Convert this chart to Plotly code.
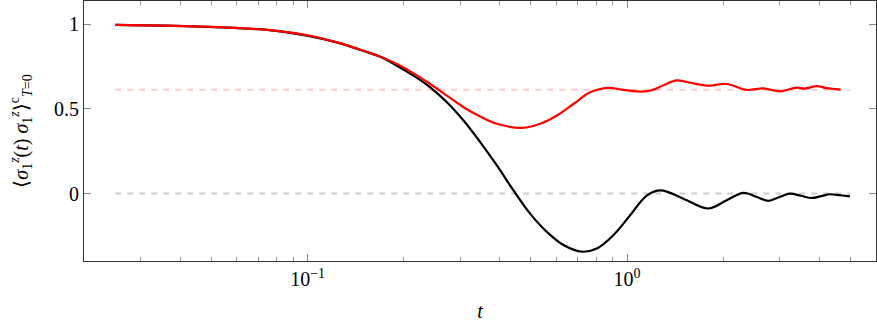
import plotly.graph_objects as go

# ---- data ----
t_black = [0.025, 0.046, 0.076, 0.0996, 0.125, 0.149, 0.1688, 0.1904, 0.2146, 0.2419, 0.2729,
           0.3076, 0.3468, 0.3912, 0.4408, 0.497, 0.5607, 0.6321, 0.7217, 0.8038, 0.9061,
           1.0219, 1.152, 1.275, 1.5, 1.796, 2.05, 2.311, 2.55, 2.767, 3.0, 3.236, 3.5,
           3.782, 4.05, 4.315, 4.65, 4.98]
v_black = [0.996, 0.986, 0.965, 0.933, 0.89, 0.843, 0.808, 0.755, 0.696, 0.627, 0.539,
           0.431, 0.304, 0.166, 0.019, -0.118, -0.226, -0.304, -0.343, -0.324, -0.245,
           -0.128, -0.012, 0.019, -0.03, -0.088, -0.039, 0.004, -0.02, -0.043, -0.02, 0.0, -0.013,
           -0.026, -0.015, -0.004, -0.01, -0.016]

t_red = [0.025, 0.046, 0.076, 0.0996, 0.125, 0.149, 0.1688, 0.1904, 0.2146, 0.2419, 0.2729,
         0.3076, 0.3468, 0.3912, 0.4685, 0.5344, 0.6027, 0.6793, 0.7663, 0.874, 0.9737,
         1.098, 1.18, 1.3, 1.43, 1.6, 1.776, 2.05, 2.368, 2.669, 3.01, 3.395, 3.6, 3.922,
         4.21, 4.66]
v_red = [0.996, 0.986, 0.965, 0.935, 0.89, 0.845, 0.808, 0.765, 0.71, 0.647, 0.578,
         0.51, 0.455, 0.412, 0.388, 0.412, 0.461, 0.529, 0.598, 0.624, 0.612,
         0.602, 0.608, 0.64, 0.668, 0.652, 0.637, 0.647, 0.612, 0.621, 0.604, 0.626, 0.62, 0.635,
         0.623, 0.614]

t_ref = [0.025, 4.98]
ref_red = 0.613
ref_black = 0.0

x_tickvals = [0.1, 1]
x_ticktext = ["10<sup>\u22121</sup>", "10<sup>0</sup>"]
y_tickvals = [0, 0.5, 1]
y_ticktext = ["0", "0.5", "1"]
x_minor = [k * 10 ** e for e in (-2, -1, 0) for k in range(2, 10) if 0.02 < k * 10 ** e < 6]

FONT = "Liberation Serif"

fig = go.Figure()
fig.add_trace(go.Scatter(x=t_ref, y=[ref_black, ref_black], mode="lines",
                         line=dict(color="#cccccc", width=2, dash="6px,6px"), hoverinfo="skip"))
fig.add_trace(go.Scatter(x=t_ref, y=[ref_red, ref_red], mode="lines",
                         line=dict(color="#ffcccc", width=2, dash="6px,6px"), hoverinfo="skip"))
fig.add_trace(go.Scatter(x=t_black, y=v_black, mode="lines",
                         line=dict(color="black", width=2.2, shape="spline", smoothing=1.0)))
fig.add_trace(go.Scatter(x=t_red, y=v_red, mode="lines",
                         line=dict(color="#ff0000", width=2.2, shape="spline", smoothing=1.0)))

fig.update_layout(
    width=877, height=326,
    margin=dict(l=84, r=1, t=1, b=65),
    plot_bgcolor="white", paper_bgcolor="white",
    showlegend=False,
    font=dict(family=FONT, size=20, color="black"),
    xaxis=dict(
        type="log", range=[-1.700, 0.779],
        tickmode="array", tickvals=x_tickvals, ticktext=x_ticktext,
        ticks="inside", ticklen=7, tickwidth=1, tickcolor="#888888",
        minor=dict(tickmode="array", tickvals=x_minor, ticks="inside", ticklen=4,
                   tickwidth=1, tickcolor="#999999", showgrid=False),
        showline=True, linecolor="#333333", linewidth=1, mirror="allticks",
        showgrid=False, zeroline=False,
        title=dict(text="<i>t</i>", font=dict(family=FONT, size=20), standoff=14),
    ),
    yaxis=dict(
        range=[-0.398, 1.137],
        tickmode="array", tickvals=y_tickvals, ticktext=y_ticktext,
        ticks="inside", ticklen=7, tickwidth=1, tickcolor="#888888",
        showline=True, linecolor="#333333", linewidth=1, mirror="allticks",
        showgrid=False, zeroline=False,
        title=dict(text="\u27e8<i>\u03c3</i><sub>1</sub><sup><i>z</i></sup>(<i>t</i>) "
                        "<i>\u03c3</i><sub>1</sub><sup><i>z</i></sup>\u27e9<sup>c</sup><sub><i>T</i>=0</sub>",
                   font=dict(family=FONT, size=20), standoff=20),
    ),
)

fig.write_html("out.html")
